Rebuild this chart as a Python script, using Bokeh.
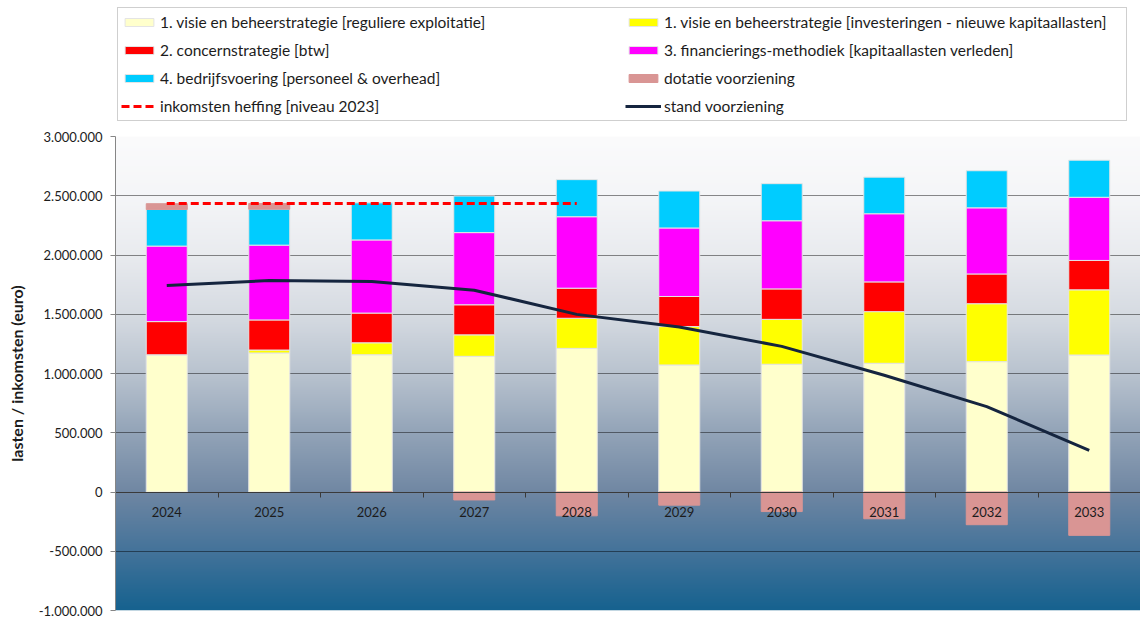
import numpy as np
from bokeh.plotting import figure
from bokeh.layouts import column
from bokeh.models import ColumnDataSource, FixedTicker, Legend, LegendItem, Range1d
from bokeh.embed import file_html
from bokeh.resources import INLINE

# ---------------- data ----------------
years = ["2024", "2025", "2026", "2027", "2028", "2029", "2030", "2031", "2032", "2033"]

regulier = [1158000, 1173000, 1158000, 1145000, 1212000, 1072000, 1078000, 1086000, 1100000, 1156000]
investeringen = [0, 25000, 101000, 181000, 254000, 324000, 379000, 436000, 489000, 550000]
btw = [280000, 254000, 251000, 254000, 254000, 254000, 257000, 251000, 251000, 248000]
kapitaallasten = [637000, 631000, 617000, 609000, 603000, 578000, 575000, 575000, 558000, 533000]
bedrijfsvoering = [310000, 304000, 313000, 309000, 313000, 312000, 313000, 309000, 313000, 313000]
dotatie = [48000, 48000, 0, -67000, -201000, -111000, -165000, -226000, -276000, -366000]
heffing = [2435000, 2435000, 2435000, 2435000, 2435000,
           float("nan"), float("nan"), float("nan"), float("nan"), float("nan")]
stand = [1742000, 1784000, 1776000, 1703000, 1499000, 1393000, 1229000, 985000, 720000, 352000]

series_names = [
    "1. visie en beheerstrategie [reguliere exploitatie]",
    "1. visie en beheerstrategie [investeringen - nieuwe kapitaallasten]",
    "2. concernstrategie [btw]",
    "3. financierings-methodiek [kapitaallasten verleden]",
    "4. bedrijfsvoering [personeel & overhead]",
    "dotatie voorziening",
    "inkomsten heffing [niveau 2023]",
    "stand voorziening",
]

y_ticks = [-1000000, -500000, 0, 500000, 1000000, 1500000, 2000000, 2500000, 3000000]
y_tick_labels = ["-1.000.000", "-500.000", "0", "500.000", "1.000.000",
                 "1.500.000", "2.000.000", "2.500.000", "3.000.000"]

# ---------------- styling ----------------
FONT = "Lato"
TXT = "#1c1c1c"
colors = ["#ffffcc", "#ffff00", "#ff0000", "#ff00ff", "#00ccff"]
dot_color = "#d99594"
stand_color = "#15253f"
heff_color = "#ff0000"

W = 1140
H_TOTAL = 619
H_LEG = 126
H_MAIN = H_TOTAL - H_LEG
BORDER_L, BORDER_T, BORDER_B = 115, 10, 9
LEG_H = 112

n = len(years)
xs = list(range(n))
stack_keys = ["regulier", "investeringen", "btw", "kapitaallasten", "bedrijfsvoering"]
data = dict(x=xs, regulier=regulier, investeringen=investeringen, btw=btw,
            kapitaallasten=kapitaallasten, bedrijfsvoering=bedrijfsvoering)
base = np.sum([np.array(data[k], dtype=float) for k in stack_keys], axis=0)
dot = np.array(dotatie, dtype=float)
dot_bottom = np.where(dot > 0, base, 0.0)
data["dot_bottom"] = dot_bottom
data["dot_top"] = dot_bottom + dot
data["heffing"] = heffing
data["stand"] = stand
source = ColumnDataSource(data)

ymin, ymax = y_ticks[0], y_ticks[-1]


def draw_series(fig):
    bars = fig.vbar_stack(stack_keys, x="x", width=0.4, fill_color=colors,
                          line_color="#e4e4e4", line_width=1, source=source)
    d = fig.vbar(x="x", bottom="dot_bottom", top="dot_top", width=0.4, fill_color=dot_color,
                 line_color=dot_color, line_width=1, source=source)
    h = fig.line(x="x", y="heffing", line_color=heff_color, line_width=3, line_dash="8 4",
                 source=source)
    s = fig.line(x="x", y="stand", line_color=stand_color, line_width=3, source=source)
    return list(bars) + [d, h, s]


# ---------------- main chart ----------------
p = figure(width=W, height=H_MAIN, output_backend="svg", toolbar_location=None,
           x_range=Range1d(-0.5, n - 0.5), y_range=Range1d(ymin, ymax),
           min_border_left=BORDER_L, min_border_right=0, min_border_top=BORDER_T,
           min_border_bottom=BORDER_B,
           background_fill_color="white", border_fill_color="white")
p.outline_line_color = None

# gradient background of plot area (decorative)
stops_pos = [0.0, 0.125, 0.25, 0.375, 0.5, 0.625, 0.75, 0.875, 1.0]  # from top
stops_col = [(251, 251, 252), (245, 246, 248), (233, 235, 239), (214, 219, 226),
             (185, 195, 207), (147, 164, 184), (112, 135, 163), (68, 115, 154), (22, 98, 143)]
rows = 480
t = 1.0 - (np.arange(rows) + 0.5) / rows  # row 0 = bottom
img = np.empty((rows, 1), dtype=np.uint32)
view = img.view(dtype=np.uint8).reshape((rows, 1, 4))
for c in range(3):
    view[:, 0, c] = np.interp(t, stops_pos, [s[c] for s in stops_col]).astype(np.uint8)
view[:, 0, 3] = 255
p.image_rgba(image=[img], x=-0.5, y=ymin, dw=n, dh=ymax - ymin, level="image")

p.xgrid.visible = False
p.ygrid.ticker = FixedTicker(ticks=y_ticks)
p.ygrid.grid_line_color = "black"
p.ygrid.grid_line_alpha = 0.45
p.ygrid.grid_line_width = 1

draw_series(p)

xa = p.xaxis[0]
xa.ticker = FixedTicker(ticks=xs, minor_ticks=[i - 0.5 for i in range(n + 1)])
xa.major_label_overrides = {i: y for i, y in enumerate(years)}
xa.fixed_location = 0
xa.axis_line_color = "#3a3a3a"
xa.major_tick_line_color = None
xa.major_tick_out = 0
xa.major_tick_in = 0
xa.minor_tick_line_color = "#3a3a3a"
xa.minor_tick_out = 5
xa.minor_tick_in = 0
xa.major_label_standoff = 10
xa.major_label_text_font = FONT
xa.major_label_text_font_size = "13px"
xa.major_label_text_color = TXT

ya = p.yaxis[0]
ya.ticker = FixedTicker(ticks=y_ticks)
ya.major_label_overrides = dict(zip(y_ticks, y_tick_labels))
ya.axis_line_color = "#868686"
ya.major_tick_line_color = "#868686"
ya.major_tick_out = 5
ya.major_tick_in = 0
ya.minor_tick_line_color = None
ya.major_label_standoff = 8
ya.major_label_text_font = FONT
ya.major_label_text_font_size = "13px"
ya.major_label_text_color = TXT
ya.axis_label = "lasten / inkomsten (euro)"
ya.axis_label_text_font = FONT
ya.axis_label_text_font_style = "bold"
ya.axis_label_text_font_size = "16px"
ya.axis_label_text_color = TXT
ya.axis_label_standoff = 10

# ---------------- legend strip (separate figure above the chart) ----------------
lf = figure(width=W, height=H_LEG, output_backend="svg", toolbar_location=None,
            x_range=Range1d(-200, -199), y_range=Range1d(ymin, ymax),
            min_border=0, min_border_left=BORDER_L, min_border_right=0,
            background_fill_color="white", border_fill_color="white")
lf.axis.visible = False
lf.grid.visible = False
lf.outline_line_color = None
leg_renderers = draw_series(lf)

items = [LegendItem(label=series_names[i], renderers=[leg_renderers[i]])
         for i in range(len(leg_renderers))]
legend = Legend(items=items, orientation="horizontal", ncols=2,
                location=(2, H_LEG - 9 - LEG_H),
                margin=0, padding=3, spacing=6, glyph_width=36, glyph_height=10,
                label_height=22, label_width=459, label_standoff=3,
                label_text_font=FONT, label_text_font_size="15.5px", label_text_color=TXT,
                border_line_color="#a0a0a0", border_line_width=1,
                background_fill_color="white", background_fill_alpha=1)
lf.add_layout(legend, "center")

layout = column(lf, p, spacing=0)
open("out.html", "w").write(file_html(layout, INLINE))
